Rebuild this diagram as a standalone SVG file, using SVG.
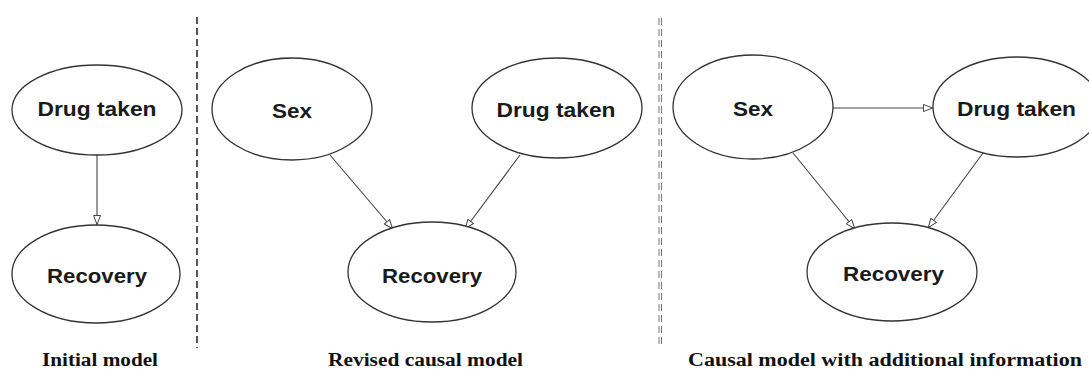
<svg xmlns="http://www.w3.org/2000/svg" width="1089" height="370" viewBox="0 0 1089 370">
<style>
.node ellipse{fill:#fff;stroke:#333;stroke-width:1.3}
.lbl{font-family:"Liberation Sans",Arial,sans-serif;font-weight:bold;font-size:20px;fill:#1a1a1a;text-anchor:middle}
.cap{font-family:"Liberation Serif","Times New Roman",serif;font-weight:bold;font-size:18px;fill:#111;text-anchor:middle}
.edge{stroke:#444;stroke-width:1.1;fill:none;marker-end:url(#arr)}
.sep{stroke:#555;stroke-width:2;stroke-dasharray:7 4;fill:none}
</style>
<defs>
<marker id="arr" viewBox="0 0 10 8" refX="10" refY="4" markerWidth="10" markerHeight="8" markerUnits="userSpaceOnUse" orient="auto">
<path d="M0.5,0.5 L9.5,4 L0.5,7.5 z" fill="#fff" stroke="#444" stroke-width="1"/>
</marker>
</defs>
<rect width="1089" height="370" fill="#fff"/>
<g id="separators">
<line class="sep" x1="197" y1="17" x2="197" y2="348"/>
<line x1="659" y1="18" x2="659" y2="347" stroke="#666" stroke-width="0.9" stroke-dasharray="7 4"/>
<line x1="661.5" y1="18" x2="661.5" y2="347" stroke="#666" stroke-width="0.9" stroke-dasharray="7 4"/>
</g>
<g id="connectors">
<line class="edge" x1="97" y1="155" x2="97" y2="225"/>
<line class="edge" x1="330" y1="155" x2="393" y2="229"/>
<line class="edge" x1="520" y1="155" x2="465" y2="229"/>
<line class="edge" x1="833" y1="108" x2="933" y2="108"/>
<line class="edge" x1="793" y1="153" x2="855" y2="229"/>
<line class="edge" x1="983" y1="153" x2="928" y2="228"/>
</g>
<g id="p1-drug" class="node"><ellipse cx="97" cy="110" rx="85" ry="45"/><text class="lbl" x="97" y="116" textLength="119" lengthAdjust="spacingAndGlyphs">Drug taken</text></g>
<g id="p1-recovery" class="node"><ellipse cx="96" cy="274" rx="84" ry="49"/><text class="lbl" x="97" y="283" textLength="100" lengthAdjust="spacingAndGlyphs">Recovery</text></g>
<g id="p2-sex" class="node"><ellipse cx="292" cy="109" rx="80" ry="51"/><text class="lbl" x="292" y="118" textLength="40" lengthAdjust="spacingAndGlyphs">Sex</text></g>
<g id="p2-drug" class="node"><ellipse cx="557" cy="108" rx="85" ry="50"/><text class="lbl" x="556" y="117" textLength="119" lengthAdjust="spacingAndGlyphs">Drug taken</text></g>
<g id="p2-recovery" class="node"><ellipse cx="432" cy="272" rx="84" ry="50"/><text class="lbl" x="432" y="283" textLength="100" lengthAdjust="spacingAndGlyphs">Recovery</text></g>
<g id="p3-sex" class="node"><ellipse cx="753" cy="107" rx="80" ry="52"/><text class="lbl" x="753" y="116" textLength="40" lengthAdjust="spacingAndGlyphs">Sex</text></g>
<g id="p3-drug" class="node"><ellipse cx="1017" cy="107" rx="84" ry="50"/><text class="lbl" x="1016.5" y="116" textLength="119" lengthAdjust="spacingAndGlyphs">Drug taken</text></g>
<g id="p3-recovery" class="node"><ellipse cx="892" cy="272" rx="85" ry="49"/><text class="lbl" x="893.5" y="281" textLength="101" lengthAdjust="spacingAndGlyphs">Recovery</text></g>
<g id="captions">
<text class="cap" x="100" y="366" textLength="116" lengthAdjust="spacingAndGlyphs">Initial model</text>
<text class="cap" x="425.5" y="366" textLength="195" lengthAdjust="spacingAndGlyphs">Revised causal model</text>
<text class="cap" x="885" y="366" textLength="394" lengthAdjust="spacingAndGlyphs">Causal model with additional information</text>
</g>
</svg>
